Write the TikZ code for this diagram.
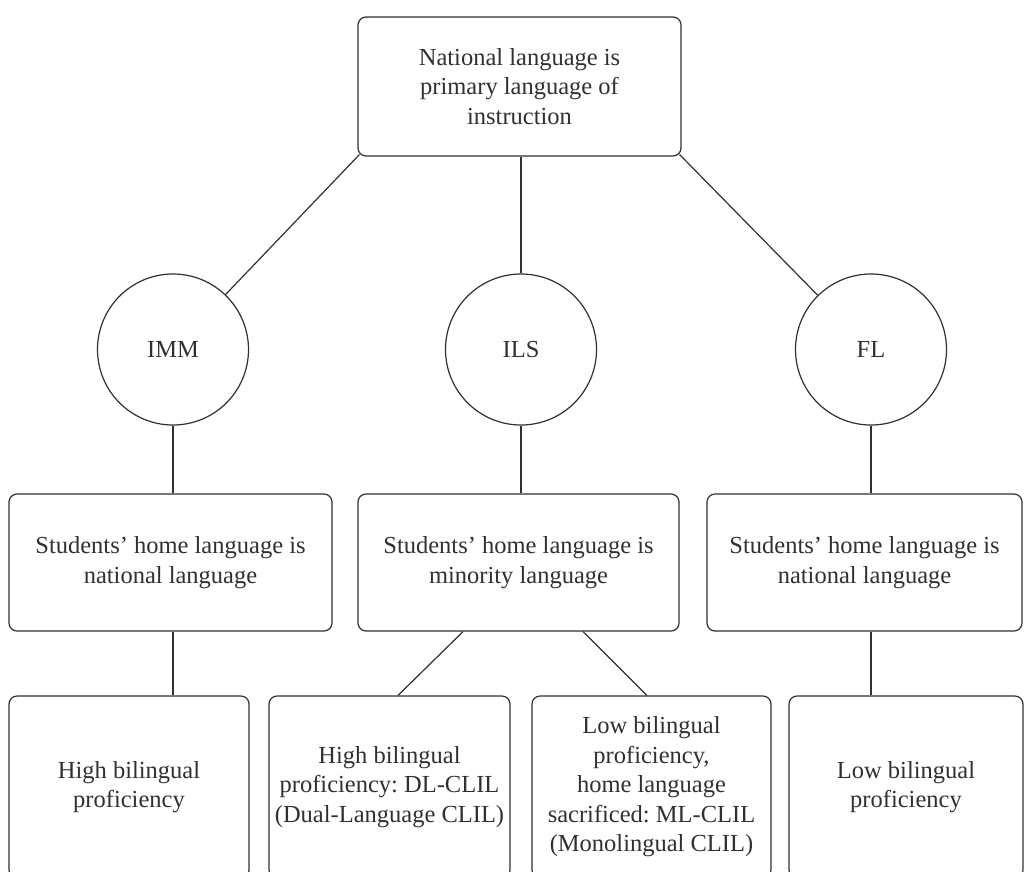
\documentclass[tikz,border=0pt]{standalone}
\usepackage{fontspec}
\setmainfont{Liberation Serif}
\usetikzlibrary{calc}
\definecolor{ink}{HTML}{303030}
\frenchspacing
\begin{document}
\begin{tikzpicture}[x=1pt,y=-1pt,
  every node/.style={text=ink,font=\fontsize{24.5}{29.5}\selectfont\frenchspacing,align=center,inner sep=0pt},
  rbox/.style={draw=ink,line width=1.2pt,rounded corners=8pt,rectangle},
  circ/.style={draw=ink,line width=1.2pt,circle,minimum size=151pt},
  conn/.style={draw=ink,line width=1.2pt}]
\useasboundingbox (0,0) rectangle (1027,871);
\clip (0,0) rectangle (1027,871);
\node[rbox,minimum width=323pt,minimum height=139pt] (top) at (519.5,86.5) {National language is\\primary language of\\instruction};
\node[circ] (imm) at (173,349.5) {IMM};
\node[circ] (ils) at (521,349.5) {ILS};
\node[circ] (fl) at (871,349.5) {FL};
\node[rbox,minimum width=323pt,minimum height=137pt] (mid1) at (170.5,562.5) {Students’ home language is\\national language};
\node[rbox,minimum width=321pt,minimum height=137pt] (mid2) at (518.5,562.5) {Students’ home language is\\minority language};
\node[rbox,minimum width=315pt,minimum height=137pt] (mid3) at (864.5,562.5) {Students’ home language is\\national language};
\node[rbox,minimum width=240pt,minimum height=182pt] (bot1) at (129,787) {High bilingual\\proficiency};
\node[rbox,minimum width=241pt,minimum height=182pt] (bot2) at (389.5,787) {High bilingual\\proficiency: DL-CLIL\\(Dual-Language CLIL)};
\node[rbox,minimum width=239pt,minimum height=182pt] (bot3) at (651.5,787) {Low bilingual\\proficiency,\\home language\\sacrificed: ML-CLIL\\(Monolingual CLIL)};
\node[rbox,minimum width=234pt,minimum height=182pt] (bot4) at (906,787) {Low bilingual\\proficiency};
% connectors
\draw[conn] ($(top.south west)+(2,-2)$) -- (imm);
\draw[conn] (ils.north |- top.south) -- (ils.north);
\draw[conn] ($(top.south east)+(-2,-2)$) -- (fl);
\draw[conn] (imm.south) -- (imm.south |- mid1.north);
\draw[conn] (ils.south) -- (ils.south |- mid2.north);
\draw[conn] (fl.south) -- (fl.south |- mid3.north);
\draw[conn] (imm.south |- mid1.south) -- (imm.south |- bot1.north);
\draw[conn] ($(mid2.south)+(-55.5,0)$) -- ($(bot2.north)+(8.5,0)$);
\draw[conn] ($(mid2.south)+(64.5,0)$) -- ($(bot3.north)+(-4.5,0)$);
\draw[conn] (fl.south |- mid3.south) -- (fl.south |- bot4.north);
\end{tikzpicture}
\end{document}
